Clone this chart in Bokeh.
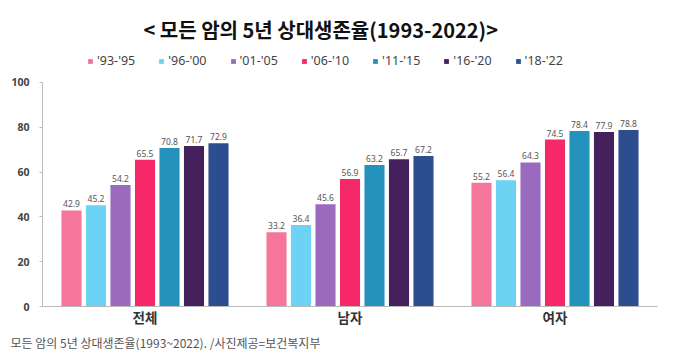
from bokeh.plotting import figure
from bokeh.models import (ColumnDataSource, FactorRange, Range1d, Legend, LegendItem,
                          Title, FixedTicker)
from bokeh.transform import dodge
from bokeh.core.properties import value
from bokeh.embed import file_html
from bokeh.resources import INLINE

categories = ["전체", "남자", "여자"]
periods = ["'93-'95", "'96-'00", "'01-'05", "'06-'10", "'11-'15", "'16-'20", "'18-'22"]
v_9395 = [42.9, 33.2, 55.2]
v_9600 = [45.2, 36.4, 56.4]
v_0105 = [54.2, 45.6, 64.3]
v_0610 = [65.5, 56.9, 74.5]
v_1115 = [70.8, 63.2, 78.4]
v_1620 = [71.7, 65.7, 77.9]
v_1822 = [72.9, 67.2, 78.8]
series = [v_9395, v_9600, v_0105, v_0610, v_1115, v_1620, v_1822]
colors = ["#F6759A", "#6DD3F5", "#9A6ABF", "#F5296A", "#2592BB", "#44205C", "#2C4E8F"]
y_ticks = [0, 20, 40, 60, 80, 100]
title_text = "< 모든 암의 5년 상대생존율(1993-2022)>"
caption_text = "모든 암의 5년 상대생존율(1993~2022). /사진제공=보건복지부"

KR = "Noto Sans CJK KR"

p = figure(width=675, height=359, x_range=FactorRange(*categories, range_padding=0),
           y_range=Range1d(0, 116.96), output_backend="svg", toolbar_location=None,
           min_border_left=42, min_border_right=18, min_border_top=44, min_border_bottom=53)
p.outline_line_color = None
p.grid.grid_line_color = None
p.background_fill_color = "white"

pitch = 0.1195
bw = 0.098
items = []
for i, (name, vals, col) in enumerate(zip(periods, series, colors)):
    off = (i - 3) * pitch
    src = ColumnDataSource(dict(cat=categories, val=vals,
                                lab=[f"{v:.1f}" for v in vals]))
    r = p.vbar(x=dodge("cat", off, range=p.x_range), top="val", width=bw, bottom=0,
               source=src, fill_color=col, line_color=None)
    p.text(x=dodge("cat", off, range=p.x_range), y="val", text="lab", source=src,
           text_align="center", text_baseline="bottom", y_offset=-3,
           text_font=value("Noto Sans"), text_font_size="8.5px", text_color="#555555")
    items.append(LegendItem(label=name, renderers=[r]))

legend = Legend(items=items, orientation="horizontal", location=(45, 237),
                glyph_width=6, glyph_height=6, label_standoff=4, spacing=23,
                label_text_font="Noto Sans", label_text_font_size="12.5px",
                label_text_color="#444444",
                border_line_color=None, background_fill_alpha=0, margin=0, padding=0,
                label_height=12)
p.add_layout(legend, "center")

p.add_layout(Title(text=title_text, align="left", offset=101, standoff=1,
                   text_font=KR, text_font_size="20px", text_font_style="bold",
                   text_color="#111111"), "above")
p.add_layout(Title(text=caption_text, align="left", offset=-32, standoff=5,
                   text_font=KR, text_font_size="12px", text_font_style="normal",
                   text_color="#555555"), "below")

p.yaxis.ticker = FixedTicker(ticks=y_ticks)
p.yaxis.bounds = (0, 100)
p.yaxis.axis_line_color = "#BBBBBB"
p.yaxis.major_tick_line_color = "#BBBBBB"
p.yaxis.major_tick_out = 3
p.yaxis.major_tick_in = 0
p.yaxis.minor_tick_line_color = None
p.yaxis.major_label_text_font = "Noto Sans"
p.yaxis.major_label_text_font_style = "bold"
p.yaxis.major_label_text_font_size = "10.5px"
p.yaxis.major_label_text_color = "#444444"
p.yaxis.major_label_standoff = 10

p.xaxis.axis_line_color = "#BBBBBB"
p.xaxis.major_tick_line_color = None
p.xaxis.major_tick_out = 0
p.xaxis.major_tick_in = 0
p.xaxis.minor_tick_line_color = None
p.xaxis.major_label_text_font = KR
p.xaxis.major_label_text_font_style = "bold"
p.xaxis.major_label_text_font_size = "13.5px"
p.xaxis.major_label_text_color = "#333333"
p.xaxis.major_label_standoff = 0

open("out.html", "w").write(file_html(p, INLINE))
